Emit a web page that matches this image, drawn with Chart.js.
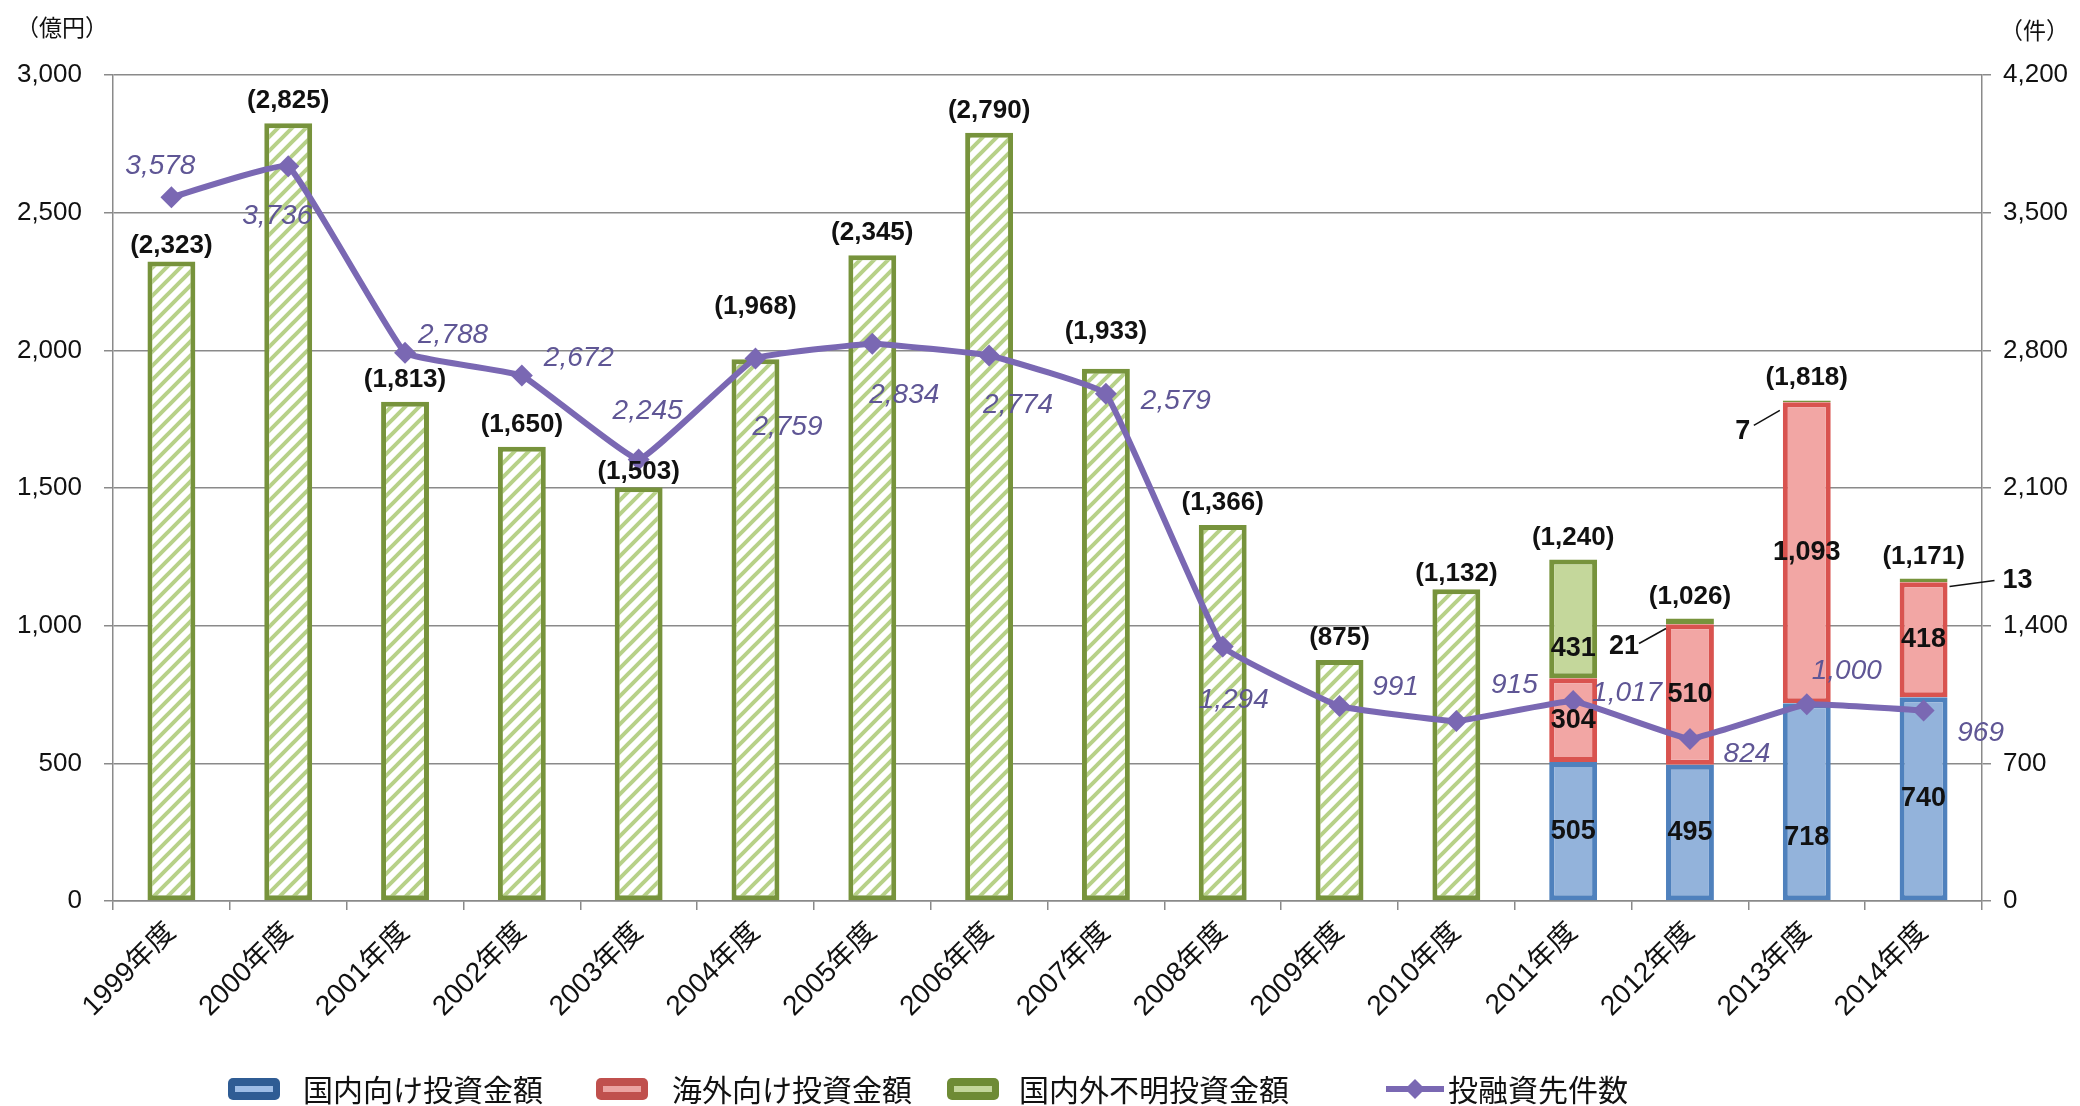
<!DOCTYPE html>
<html>
<head>
<meta charset="utf-8">
<script src="https://cdn.jsdelivr.net/npm/chart.js@4.4.1/dist/chart.umd.min.js"></script>
<style>
  html, body { margin: 0; padding: 0; background: #fff; }
  canvas { display: block; }
</style>
</head>
<body>
<canvas id="chart" width="2080" height="1106"></canvas>
<script>
// data (億円 / 件)
const years = ['1999年度', '2000年度', '2001年度', '2002年度', '2003年度', '2004年度', '2005年度', '2006年度',
  '2007年度', '2008年度', '2009年度', '2010年度', '2011年度', '2012年度', '2013年度', '2014年度'];
const domestic = [null, null, null, null, null, null, null, null, null, null, null, null, 505, 495, 718, 740];
const overseas = [null, null, null, null, null, null, null, null, null, null, null, null, 304, 510, 1093, 418];
const unknown = [2323, 2825, 1813, 1650, 1503, 1968, 2345, 2790, 1933, 1366, 875, 1132, 431, 21, 7, 13];
const counts = [3578, 3736, 2788, 2672, 2245, 2759, 2834, 2774, 2579, 1294, 991, 915, 1017, 824, 1000, 969];
const leftTicks = [0, 500, 1000, 1500, 2000, 2500, 3000];
const rightTicks = [0, 700, 1400, 2100, 2800, 3500, 4200];
const seriesNames = ['国内向け投資金額', '海外向け投資金額', '国内外不明投資金額', '投融資先件数'];

// label placement tweaks (pixels)
const countLabelOffsets = [[-11, -31], [-11, 50], [48, -17], [57, -17], [9, -48], [32, 69], [32, 52], [29, 50],
  [70, 7], [11, 54], [56, -19], [58, -36], [54, -8], [57, 15], [40, -33], [57, 23]];
const totalLabelLift = [7, 0, 0, 0, 7, -30, 0, 0, -15, 0, 0, 7, 0, 0, 0, 0];
const segLabelShift = { '2-12': 30, '0-14': 36 };
// small green tops with a leader line: start, end of line, text centre (relative to bar corner)
const callouts = [
  { i: 13, side: 'left', from: [0, 10], to: [-27, 25], text: [-42, 28] },
  { i: 14, side: 'left', from: [-3, 10], to: [-29, 25], text: [-40, 31] },
  { i: 15, side: 'right', from: [2, 8], to: [47, 2], text: [70, 2] }
];

const NUM = '"Liberation Sans", Arial, sans-serif';
const JP = '"Liberation Sans", "Noto Sans CJK JP", sans-serif';
const GRID = '#8a8a8a';
const PURPLE = '#7A68B3';
const fmt = v => v.toLocaleString('en-US');

const canvas = document.getElementById('chart');
const ctx0 = canvas.getContext('2d');

function makeHatch() {
  const c = document.createElement('canvas');
  c.width = 14; c.height = 14;
  const g = c.getContext('2d');
  g.fillStyle = '#fff';
  g.fillRect(0, 0, 14, 14);
  g.strokeStyle = '#B7D188';
  g.lineWidth = 4;
  g.beginPath();
  g.moveTo(-3, 17); g.lineTo(17, -3);
  g.moveTo(-3, 3); g.lineTo(3, -3);
  g.moveTo(11, 17); g.lineTo(17, 11);
  g.stroke();
  return ctx0.createPattern(c, 'repeat');
}
const hatch = makeHatch();
const unknownFill = unknown.map((v, i) => i < 12 ? hatch : (i === 12 ? '#C4D79B' : '#77933C'));

const labelsPlugin = {
  id: 'labels',
  afterDatasetsDraw(chart) {
    const ctx = chart.ctx;
    const xs = chart.scales.x, ys = chart.scales.y;
    ctx.save();

    // totals above each bar
    ctx.font = 'bold 26px ' + NUM;
    ctx.fillStyle = '#111';
    ctx.textAlign = 'center';
    ctx.textBaseline = 'alphabetic';
    years.forEach((_, i) => {
      const total = (domestic[i] || 0) + (overseas[i] || 0) + unknown[i];
      ctx.fillText('(' + fmt(total) + ')', xs.getPixelForValue(i),
        ys.getPixelForValue(total) - 15 + totalLabelLift[i]);
    });

    // values inside stacked segments
    ctx.font = 'bold 27px ' + NUM;
    ctx.textBaseline = 'middle';
    [0, 1, 2].forEach(k => {
      const meta = chart.getDatasetMeta(k);
      const vals = chart.data.datasets[k].data;
      meta.data.forEach((bar, i) => {
        if (i < 12 || vals[i] == null || vals[i] < 100) return;
        const shift = segLabelShift[k + '-' + i] || 0;
        ctx.fillText(fmt(vals[i]), bar.x, (bar.y + bar.base) / 2 + shift);
      });
    });

    // leader-line labels for the tiny green tops
    const greenMeta = chart.getDatasetMeta(2);
    ctx.strokeStyle = '#111';
    ctx.lineWidth = 1.5;
    callouts.forEach(c => {
      const bar = greenMeta.data[c.i];
      const cx = c.side === 'left' ? bar.x - bar.width / 2 : bar.x + bar.width / 2;
      const cy = bar.y;
      ctx.beginPath();
      ctx.moveTo(cx + c.from[0], cy + c.from[1]);
      ctx.lineTo(cx + c.to[0], cy + c.to[1]);
      ctx.stroke();
      ctx.fillText(String(unknown[c.i]), cx + c.text[0], cy + c.text[1]);
    });

    // italic count labels
    const lineMeta = chart.getDatasetMeta(3);
    ctx.font = 'italic 28px ' + NUM;
    ctx.fillStyle = '#5F5695';
    lineMeta.data.forEach((pt, i) => {
      const o = countLabelOffsets[i];
      ctx.fillText(fmt(counts[i]), pt.x + o[0], pt.y + o[1]);
    });
    ctx.restore();
  },
  afterDraw(chart) {
    const ctx = chart.ctx;
    ctx.save();
    // units
    ctx.font = '23px "Noto Sans CJK JP", sans-serif';
    ctx.fillStyle = '#111';
    ctx.textBaseline = 'middle';
    ctx.textAlign = 'left';
    ctx.fillText('（億円）', 16, 27);
    ctx.fillText('（件）', 2000, 30);

    // legend
    const ly = 1089;
    const boxes = [
      { x: 228, outer: '#2F5C94', inner: '#9DBCE6', tx: 303 },
      { x: 596, outer: '#C0504D', inner: '#EBA3A1', tx: 672 },
      { x: 947, outer: '#6E8B35', inner: '#C3D69B', tx: 1019 }
    ];
    boxes.forEach((b, k) => {
      ctx.fillStyle = b.outer;
      ctx.beginPath();
      ctx.roundRect(b.x, ly - 11, 52, 22, 5);
      ctx.fill();
      ctx.fillStyle = b.inner;
      ctx.fillRect(b.x + 7, ly - 3, 38, 6);
      ctx.fillStyle = '#111';
      ctx.font = '30px "Noto Sans CJK JP", sans-serif';
      ctx.fillText(seriesNames[k], b.tx, ly + 1);
    });
    ctx.strokeStyle = PURPLE;
    ctx.lineWidth = 6;
    ctx.beginPath();
    ctx.moveTo(1386, ly);
    ctx.lineTo(1444, ly);
    ctx.stroke();
    ctx.fillStyle = PURPLE;
    ctx.beginPath();
    ctx.moveTo(1415, ly - 10); ctx.lineTo(1425, ly); ctx.lineTo(1415, ly + 10); ctx.lineTo(1405, ly);
    ctx.closePath();
    ctx.fill();
    ctx.fillStyle = '#111';
    ctx.fillText(seriesNames[3], 1448, ly + 1);
    ctx.restore();
  }
};

const barBase = { type: 'bar', yAxisID: 'y', order: 1, borderWidth: 5, borderSkipped: false,
  categoryPercentage: 1, barPercentage: 0.41 };

new Chart(canvas, {
  data: {
    labels: years,
    datasets: [
      { ...barBase, label: seriesNames[0], data: domestic, backgroundColor: '#93B3DB', borderColor: '#4F81BD' },
      { ...barBase, label: seriesNames[1], data: overseas, backgroundColor: '#F2A6A4', borderColor: '#D9534F' },
      { ...barBase, label: seriesNames[2], data: unknown, backgroundColor: unknownFill, borderColor: '#77933C' },
      { type: 'line', label: seriesNames[3], data: counts, yAxisID: 'y1', order: 0,
        borderColor: PURPLE, backgroundColor: PURPLE, borderWidth: 6, tension: 0.08,
        pointStyle: 'rectRot', pointRadius: 11, pointBorderWidth: 0 }
    ]
  },
  options: {
    responsive: false,
    devicePixelRatio: 1,
    animation: false,
    layout: { padding: { top: 75, left: 0, right: 0, bottom: 0 } },
    plugins: { legend: { display: false }, tooltip: { enabled: false } },
    scales: {
      x: {
        stacked: true,
        grid: { drawOnChartArea: false, drawTicks: true, tickLength: 9, color: GRID, lineWidth: 1.5 },
        border: { color: GRID, width: 1.5 },
        ticks: { maxRotation: 45, minRotation: 45, padding: 6, color: '#111', font: { size: 28, family: JP } },
        afterFit: s => { s.height = 205; }
      },
      y: {
        stacked: true, position: 'left', min: 0, max: 3000,
        afterBuildTicks: s => { s.ticks = leftTicks.map(v => ({ value: v })); },
        grid: { color: GRID, lineWidth: 1.5, tickLength: 9 },
        border: { color: GRID, width: 1.5 },
        ticks: { padding: 22, color: '#111', font: { size: 26, family: NUM }, callback: v => fmt(v) },
        afterFit: s => { s.width = 113; }
      },
      y1: {
        position: 'right', min: 0, max: 4200,
        afterBuildTicks: s => { s.ticks = rightTicks.map(v => ({ value: v })); },
        grid: { drawOnChartArea: false, color: GRID, lineWidth: 1.5, tickLength: 9 },
        border: { color: GRID, width: 1.5 },
        ticks: { padding: 12, color: '#111', font: { size: 26, family: NUM }, callback: v => fmt(v) },
        afterFit: s => { s.width = 98; }
      }
    }
  },
  plugins: [labelsPlugin]
});
</script>
</body>
</html>
